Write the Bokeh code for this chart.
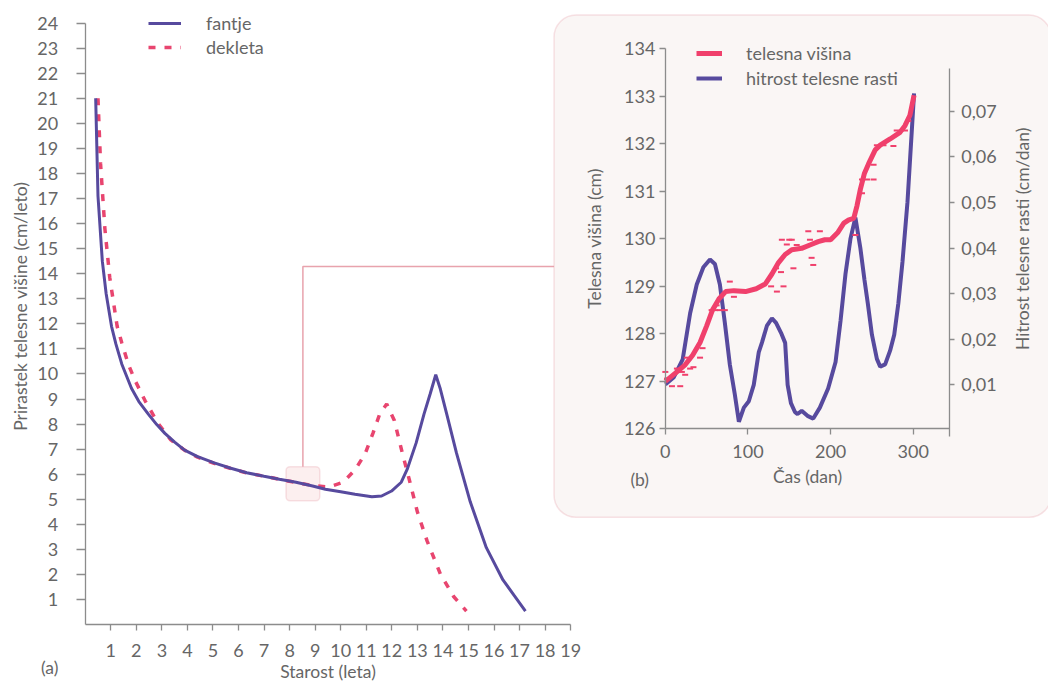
import math
from bokeh.plotting import figure
from bokeh.models import (Range1d, LinearAxis, FixedTicker, Label, Legend, LegendItem,
                          BoxAnnotation, CustomJSTickFormatter)
from bokeh.embed import file_html
from bokeh.resources import INLINE

# ---------------- data: (a) growth-rate curves ----------------
age_boys = [0.41, 0.50, 0.67, 0.82, 1.03, 1.2, 1.43, 1.81, 2.1, 2.47, 2.8, 3.12, 3.5, 3.89,
            4.4, 5.05, 5.7, 6.32, 7.0, 7.6, 8.25, 8.9, 9.4, 10.0, 10.56, 11.22, 11.6, 11.99,
            12.37, 12.6, 12.95, 13.26, 13.5, 13.72, 13.9, 14.15, 14.53, 15.07, 15.7, 16.35,
            16.8, 17.23]
rate_boys = [21.0, 17.1, 14.5, 13.2, 11.9, 11.2, 10.4, 9.43, 8.9, 8.4, 7.98, 7.63, 7.28, 6.96,
             6.7, 6.45, 6.24, 6.06, 5.92, 5.8, 5.68, 5.53, 5.4, 5.3, 5.2, 5.1, 5.13, 5.33,
             5.68, 6.19, 7.24, 8.4, 9.2, 9.97, 9.4, 8.4, 6.85, 4.9, 3.07, 1.78,
             1.15, 0.54]
age_girls = [0.5, 0.6, 0.77, 0.96, 1.25, 1.43, 1.7, 1.97, 2.35, 2.85, 3.35, 3.9, 4.4, 5.05,
             5.67, 6.32, 7.0, 7.6, 8.3, 8.9, 9.53, 10.1, 10.57, 10.95, 11.26, 11.53, 11.8,
             12.1, 12.41, 12.68, 13.0, 13.38, 13.9, 14.42, 14.92]
rate_girls = [21.0, 18.4, 15.8, 13.85, 11.9, 11.25, 10.35, 9.7, 8.92, 8.03, 7.37, 6.95, 6.68, 6.43,
              6.24, 6.05, 5.92, 5.8, 5.66, 5.55, 5.49, 5.68, 6.19, 6.8, 7.63, 8.41, 8.8,
              8.14, 6.85, 5.8, 4.5, 3.34, 2.02, 1.12, 0.54]
age_ticks = list(range(1, 20))
rate_ticks = list(range(1, 25))

# ---------------- data: (b) inset ----------------
day_height = [0, 7, 14, 24, 33, 42, 50, 57, 65, 73, 83, 97, 110, 121, 129, 137, 145, 153, 165,
              175, 185, 193, 200, 209, 216, 222, 228, 232, 236, 241, 246, 254, 260, 272, 284,
              290, 296, 301]
height_cm = [127.0, 127.1, 127.2, 127.35, 127.55, 127.82, 128.17, 128.5, 128.74, 128.89, 128.91,
             128.89, 128.95, 129.05, 129.26, 129.5, 129.67, 129.77, 129.8, 129.87, 129.94,
             129.98, 129.98, 130.14, 130.33, 130.4, 130.43, 130.7, 131.04, 131.38, 131.58,
             131.87, 131.97, 132.1, 132.24, 132.38, 132.6, 133.02]
day_obs = [0, 2, 8, 14, 18, 20, 24, 26, 30, 34, 42, 45, 56, 60, 62, 66, 72, 78, 83, 128, 134,
           135, 140, 143, 141, 147, 150, 153, 155, 159, 173, 175, 177, 179, 187, 230, 238, 238,
           244, 252, 252, 256, 264, 276, 280, 290, 294]
height_obs = [127.2, 127.06, 126.9, 127.27, 126.9, 127.2, 127.14, 127.5, 127.27, 127.3, 127.5,
              127.7, 128.5, 128.5, 128.6, 128.5, 128.5, 129.1, 128.78, 129.0, 129.38, 128.89,
              129.3, 129.0, 129.98, 129.88, 129.98, 129.98, 129.38, 129.87, 130.16, 129.98,
              129.6, 129.45, 130.16, 130.08, 130.96, 131.25, 131.25, 131.25, 131.56, 131.97,
              131.97, 131.95, 132.28, 132.28, 132.48]
day_velocity = [0, 10, 21, 30, 38, 46, 54, 60, 66, 72, 78, 84, 89, 95, 101, 107, 113, 117, 123,
                129, 134, 140, 145, 148, 152, 157, 160, 165, 172, 179, 187, 197, 206, 212, 218,
                224, 230, 236, 241, 245, 250, 256, 260, 266, 272, 277, 282, 287, 293, 301]
velocity = [0.0101, 0.0116, 0.0156, 0.0257, 0.0320, 0.0358, 0.0375, 0.0365, 0.0320, 0.0236,
            0.0145, 0.0080, 0.0019, 0.0050, 0.0064, 0.0100, 0.0171, 0.0193, 0.0230, 0.0246,
            0.0236, 0.0214, 0.0192, 0.0100, 0.0060, 0.0040, 0.0036, 0.0043, 0.0032, 0.0026,
            0.0050, 0.0092, 0.0150, 0.0240, 0.0343, 0.0420, 0.0467, 0.0400, 0.0330, 0.0279,
            0.0210, 0.0157, 0.0140, 0.0145, 0.0175, 0.0210, 0.0279, 0.0370, 0.0500, 0.0739]
day_ticks = [0, 100, 200, 300]
height_ticks = list(range(126, 135))
velocity_ticks = [0.01, 0.02, 0.03, 0.04, 0.05, 0.06, 0.07]

# zoom window on panel (a) that is enlarged in panel (b)
ZOOM_X = (7.86, 9.18)
ZOOM_Y = (4.94, 6.30)

# ---------------- styling ----------------
FONT = "Lato"
TEXT = "#666666"
AXIS = "#8c8c8c"
BLUE = "#574a9e"
PINK = "#e8456f"
PINK2 = "#f0406c"
BOX_LINE = "#e8a3ad"

W, H = 1048, 684
p = figure(width=W, height=H, output_backend="svg", toolbar_location=None, title=None,
           x_range=Range1d(-3.3153, 37.702), y_range=Range1d(-2.390, 24.901),
           x_axis_location=None, y_axis_location=None, min_border=0,
           outline_line_color=None, background_fill_color="white")
p.grid.visible = False
p.extra_x_ranges = {"ix": Range1d(-804.6, 463.7)}
p.extra_y_ranges = {"ih": Range1d(120.625, 135.013), "iv": Range1d(-0.05571, 0.094279)}


def style(ax, tick_out, standoff, label_standoff=10):
    ax.axis_line_color = AXIS
    ax.axis_line_width = 1.3
    ax.major_tick_line_color = AXIS
    ax.major_tick_line_width = 1.3
    ax.major_tick_out = tick_out
    ax.major_tick_in = 0
    ax.minor_tick_line_color = None
    ax.major_label_text_font = FONT
    ax.major_label_text_font_size = "18px"
    ax.major_label_text_color = TEXT
    ax.major_label_standoff = standoff
    ax.axis_label_text_font = FONT
    ax.axis_label_text_font_size = "17.5px"
    ax.axis_label_text_font_style = "normal"
    ax.axis_label_text_color = TEXT
    ax.axis_label_standoff = label_standoff


# inset background box and connector (drawn under everything)
inset_box = BoxAnnotation(left=18.35, right=37.8, top=24.32, bottom=4.28,
                          fill_color="#faf6f5", fill_alpha=1, line_color=BOX_LINE,
                          line_width=1.5, border_radius=22, level="underlay")
p.add_layout(inset_box)
zoom_box = BoxAnnotation(left=ZOOM_X[0], right=ZOOM_X[1], bottom=ZOOM_Y[0], top=ZOOM_Y[1],
                         fill_color="#fcefef", fill_alpha=1, line_color=BOX_LINE,
                         line_width=1.5, border_radius=4, level="underlay")
p.add_layout(zoom_box)
mid_x = (ZOOM_X[0] + ZOOM_X[1]) / 2
p.line([mid_x, mid_x, 18.35], [ZOOM_Y[1], 14.29, 14.29], line_color=BOX_LINE, line_width=1.5)

# ---------------- panel (a) ----------------
r_girls = p.line(age_girls, rate_girls, line_color=PINK, line_width=3.5, line_dash="7 9")
r_boys = p.line(age_boys, rate_boys, line_color=BLUE, line_width=3)

ay = LinearAxis(fixed_location=0, bounds=(0, 24), ticker=FixedTicker(ticks=rate_ticks))
style(ay, 9, 18)
p.add_layout(ay, "left")
ax = LinearAxis(fixed_location=0, bounds=(0, 19), ticker=FixedTicker(ticks=age_ticks),
                axis_label="Starost (leta)")
style(ax, 6, 13, 1)
p.add_layout(ax, "below")

p.add_layout(Label(x=-2.544, y=12.70, text="Prirastek telesne višine (cm/leto)",
                   angle=math.pi / 2, text_align="center", text_baseline="middle",
                   text_font=FONT, text_font_size="17.5px", text_color=TEXT))
p.add_layout(Label(x=-1.39, y=-1.72, text="(a)", text_align="center", text_baseline="middle",
                   text_font=FONT, text_font_size="17.5px", text_color=TEXT))

leg_a = Legend(items=[LegendItem(label="fantje", renderers=[r_boys]),
                      LegendItem(label="dekleta", renderers=[r_girls])],
               location=(148, 626), glyph_width=33, glyph_height=20, label_height=20,
               label_standoff=25, spacing=2, padding=0, margin=0,
               border_line_color=None, background_fill_alpha=0,
               label_text_font=FONT, label_text_font_size="18px", label_text_color=TEXT)
p.add_layout(leg_a)

# ---------------- panel (b) ----------------
r_vel = p.line(day_velocity, velocity, x_range_name="ix", y_range_name="iv",
               line_color=BLUE, line_width=4)
r_h = p.line(day_height, height_cm, x_range_name="ix", y_range_name="ih",
             line_color=PINK2, line_width=5)
p.scatter(day_obs, height_obs, x_range_name="ix", y_range_name="ih", marker="dash",
          size=6, line_width=2, line_color=PINK2)

bx = LinearAxis(x_range_name="ix", y_range_name="ih", fixed_location=126, bounds=(0, 343.7),
                ticker=FixedTicker(ticks=day_ticks), axis_label="Čas (dan)")
style(bx, 6, 10, 5)
p.add_layout(bx, "below")
by = LinearAxis(x_range_name="ix", y_range_name="ih", fixed_location=0, bounds=(126, 134),
                ticker=FixedTicker(ticks=height_ticks), axis_label="Telesna višina (cm)")
style(by, 6, 4, 16)
p.add_layout(by, "left")
bv = LinearAxis(x_range_name="ix", y_range_name="iv", fixed_location=343.7,
                bounds=(-0.0013, 0.0793), ticker=FixedTicker(ticks=velocity_ticks),
                formatter=CustomJSTickFormatter(code="return tick.toFixed(2).replace('.', ',');"))
style(bv, 5, 7)
p.add_layout(bv, "right")

p.add_layout(Label(x=432.1, y=130.0, x_range_name="ix", y_range_name="ih",
                   text="Hitrost telesne rasti (cm/dan)", angle=math.pi / 2,
                   text_align="center", text_baseline="middle",
                   text_font=FONT, text_font_size="17.5px", text_color=TEXT))
p.add_layout(Label(x=-31, y=124.94, x_range_name="ix", y_range_name="ih", text="(b)",
                   text_align="center", text_baseline="middle",
                   text_font=FONT, text_font_size="17.5px", text_color=TEXT))

leg_b = Legend(items=[LegendItem(label="telesna višina", renderers=[r_h]),
                      LegendItem(label="hitrost telesne rasti", renderers=[r_vel])],
               location=(696, 595), glyph_width=26, glyph_height=20, label_height=20,
               label_standoff=24, spacing=3, padding=0, margin=0,
               border_line_color=None, background_fill_alpha=0,
               label_text_font=FONT, label_text_font_size="18px", label_text_color=TEXT)
p.add_layout(leg_b)

open("out.html", "w").write(file_html(p, INLINE))
